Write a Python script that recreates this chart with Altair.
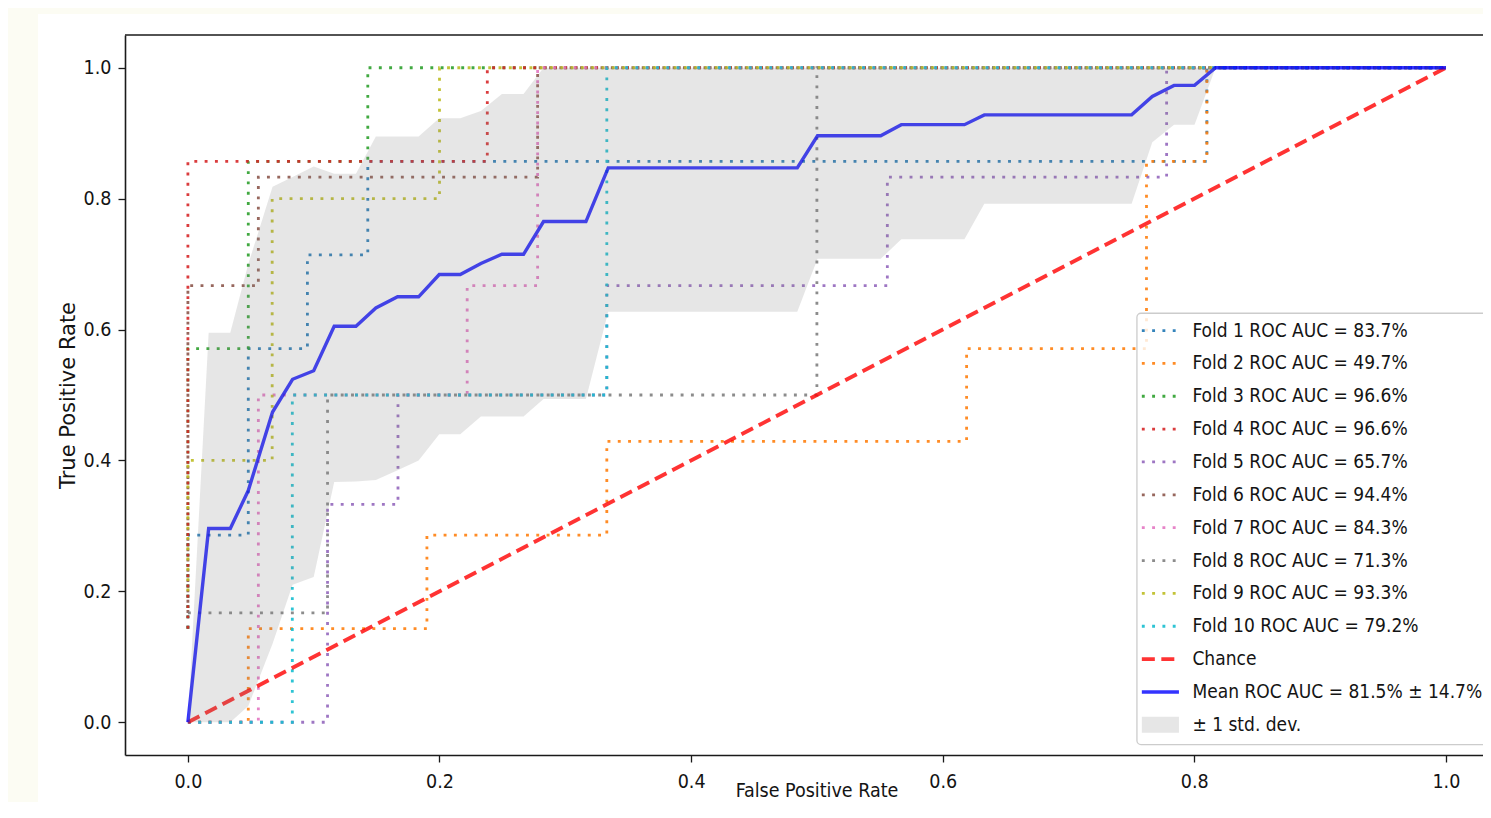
import altair as alt
import pandas as pd

# ---------------- data ----------------
fold_auc = [83.7, 49.7, 96.6, 96.6, 65.7, 94.4, 84.3, 71.3, 93.3, 79.2]
fold_colors = ["#1f77b4", "#ff7f0e", "#2ca02c", "#d62728", "#9467bd",
               "#8c564b", "#e377c2", "#7f7f7f", "#bcbd22", "#17becf"]

fold1_fpr = [0.0, 0.0, 0.048, 0.048, 0.095, 0.095, 0.143, 0.143, 0.810, 0.810, 1.0]
fold1_tpr = [0.143, 0.286, 0.286, 0.571, 0.571, 0.714, 0.714, 0.857, 0.857, 1.0, 1.0]

fold2_fpr = [0.0, 0.048, 0.048, 0.190, 0.190, 0.333, 0.333, 0.619, 0.619, 0.762, 0.762, 0.810, 0.810, 1.0]
fold2_tpr = [0.0, 0.0, 0.143, 0.143, 0.286, 0.286, 0.429, 0.429, 0.571, 0.571, 0.857, 0.857, 1.0, 1.0]

fold3_fpr = [0.0, 0.0, 0.048, 0.048, 0.143, 0.143, 1.0]
fold3_tpr = [0.143, 0.571, 0.571, 0.857, 0.857, 1.0, 1.0]

fold4_fpr = [0.0, 0.0, 0.238, 0.238, 1.0]
fold4_tpr = [0.143, 0.857, 0.857, 1.0, 1.0]

fold5_fpr = [0.0, 0.111, 0.111, 0.167, 0.167, 0.333, 0.333, 0.556, 0.556, 0.778, 0.778, 1.0]
fold5_tpr = [0.0, 0.0, 0.333, 0.333, 0.5, 0.5, 0.667, 0.667, 0.833, 0.833, 1.0, 1.0]

fold6_fpr = [0.0, 0.0, 0.056, 0.056, 0.278, 0.278, 1.0]
fold6_tpr = [0.167, 0.667, 0.667, 0.833, 0.833, 1.0, 1.0]

fold7_fpr = [0.0, 0.056, 0.056, 0.222, 0.222, 0.278, 0.278, 1.0]
fold7_tpr = [0.0, 0.0, 0.5, 0.5, 0.667, 0.667, 1.0, 1.0]

fold8_fpr = [0.0, 0.111, 0.111, 0.5, 0.5, 1.0]
fold8_tpr = [0.167, 0.167, 0.5, 0.5, 1.0, 1.0]

fold9_fpr = [0.0, 0.0, 0.067, 0.067, 0.2, 0.2, 1.0]
fold9_tpr = [0.2, 0.4, 0.4, 0.8, 0.8, 1.0, 1.0]

fold10_fpr = [0.0, 0.083, 0.083, 0.333, 0.333, 1.0]
fold10_tpr = [0.0, 0.0, 0.5, 0.5, 1.0, 1.0]

mean_fpr = [0.0, 0.0165, 0.0337, 0.048, 0.0673, 0.0832, 0.1, 0.1163, 0.1336, 0.1494,
            0.1667, 0.1834, 0.1998, 0.2165, 0.2329, 0.2496, 0.2668, 0.2827, 0.3164, 0.3341,
            0.4844, 0.5005, 0.5507, 0.5671, 0.6173, 0.6331, 0.7502, 0.7666, 0.7839, 0.8002,
            0.8169, 1.0]
mean_tpr = [0.0, 0.296, 0.296, 0.354, 0.474, 0.524, 0.537, 0.605, 0.605, 0.633,
            0.650, 0.650, 0.684, 0.684, 0.701, 0.715, 0.715, 0.765, 0.765, 0.847,
            0.847, 0.896, 0.896, 0.913, 0.913, 0.928, 0.928, 0.956, 0.973, 0.973,
            1.0, 1.0]
std_lower = [0.0, 0.0, 0.0, 0.025, 0.12, 0.21, 0.222, 0.367, 0.368, 0.37,
             0.385, 0.40, 0.44, 0.44, 0.467, 0.467, 0.467, 0.494, 0.494, 0.627,
             0.627, 0.708, 0.708, 0.738, 0.738, 0.792, 0.792, 0.886, 0.913, 0.913,
             1.0, 1.0]
std_upper = [0.0, 0.595, 0.595, 0.70, 0.818, 0.833, 0.849, 0.838, 0.838, 0.895,
             0.895, 0.895, 0.923, 0.923, 0.934, 0.96, 0.96, 1.0, 1.0, 1.0,
             1.0, 1.0, 1.0, 1.0, 1.0, 1.0, 1.0, 1.0, 1.0, 1.0,
             1.0, 1.0]

chance_fpr = [0.0, 1.0]
chance_tpr = [0.0, 1.0]

mean_label = "Mean ROC AUC = 81.5% \u00b1 14.7%"
std_label = "\u00b1 1 std. dev."
chance_label = "Chance"

x_ticks = [0.0, 0.2, 0.4, 0.6, 0.8, 1.0]
y_ticks = [0.0, 0.2, 0.4, 0.6, 0.8, 1.0]

# ---------------- tables ----------------
folds_fpr = [fold1_fpr, fold2_fpr, fold3_fpr, fold4_fpr, fold5_fpr,
             fold6_fpr, fold7_fpr, fold8_fpr, fold9_fpr, fold10_fpr]
folds_tpr = [fold1_tpr, fold2_tpr, fold3_tpr, fold4_tpr, fold5_tpr,
             fold6_tpr, fold7_tpr, fold8_tpr, fold9_tpr, fold10_tpr]
fold_labels = [f"Fold {i + 1} ROC AUC = {a:.1f}%" for i, a in enumerate(fold_auc)]

rows = []
for i, (fx, fy) in enumerate(zip(folds_fpr, folds_tpr)):
    for j, (a, b) in enumerate(zip(fx, fy)):
        rows.append({"fold": fold_labels[i], "order": j, "fpr": a, "tpr": b})
folds_df = pd.DataFrame(rows)

mean_df = pd.DataFrame({"fpr": mean_fpr, "tpr": mean_tpr, "lo": std_lower, "hi": std_upper})
chance_df = pd.DataFrame({"fpr": chance_fpr, "tpr": chance_tpr})

# axes limits (matplotlib default margins); the right part falls outside the window
X_MIN, X_MAX, Y_MIN, Y_MAX = -0.05, 1.0295, -0.05, 1.05

# legend layout (in data units of the axes)
ROW0, ROWSTEP = 0.5985, 0.0502
SYM_X0, SYM_X1, TXT_X = 0.7583, 0.7878, 0.7985
all_labels = fold_labels + [chance_label, mean_label, std_label]
leg_df = pd.DataFrame({
    "label": all_labels,
    "row": [ROW0 - ROWSTEP * i for i in range(len(all_labels))],
    "x0": SYM_X0, "x1": SYM_X1, "tx": TXT_X,
})
fold_leg = leg_df.iloc[:10].assign(fold=fold_labels)
chance_leg = leg_df.iloc[[10]]
mean_leg = leg_df.iloc[[11]]
std_leg = leg_df.iloc[[12]].assign(top=lambda d: d["row"] + 0.0122, bot=lambda d: d["row"] - 0.0122)
box_df = pd.DataFrame({"x0": [0.7544], "x1": [1.07], "y0": [0.6249], "y1": [-0.034]})
frame_df = pd.DataFrame({"x0": [X_MIN], "x1": [1.07], "y": [Y_MAX]})

# ---------------- styling ----------------
W, H = 1358, 720
FONT = "DejaVu Sans Condensed, DejaVu Sans"
FS = 19.5
LEG_FS = 19
TXT = "#141414"
FRAME = "#1a1a1a"
xs = alt.Scale(domain=[X_MIN, X_MAX], nice=False, zero=False)
ys = alt.Scale(domain=[Y_MIN, Y_MAX], nice=False, zero=False)
xaxis = alt.Axis(values=x_ticks, format=".1f", title="False Positive Rate", grid=False,
                 domain=True, domainColor=FRAME, domainWidth=1.6, zindex=1,
                 tickSize=7, tickColor=FRAME, tickWidth=1.3,
                 labelPadding=10, labelFont=FONT, labelFontSize=FS, labelColor=TXT,
                 titleFont=FONT, titleFontSize=FS, titleFontWeight="normal", titleColor=TXT,
                 titleX=W / 2 + 0.5 * (1383 - W), titleY=41, titleBaseline="alphabetic",
                 titleAlign="center")
yaxis = alt.Axis(values=y_ticks, format=".1f", title="True Positive Rate", grid=False,
                 domain=True, domainColor=FRAME, domainWidth=1.6, zindex=1,
                 tickSize=7, tickColor=FRAME, tickWidth=1.3,
                 labelPadding=7, labelFont=FONT, labelFontSize=FS, labelColor=TXT,
                 titleFont="DejaVu Sans", titleFontSize=21, titleFontWeight="normal",
                 titleColor=TXT, titleAngle=270, titleX=-51, titleY=H / 2,
                 titleBaseline="alphabetic", titleAlign="center")


def X(f):
    return alt.X(f, type="quantitative", scale=xs, axis=xaxis)


def Y(f):
    return alt.Y(f, type="quantitative", scale=ys, axis=yaxis)


fold_color = alt.Color("fold:N", scale=alt.Scale(domain=fold_labels, range=fold_colors), legend=None)
DOT = [2.9, 7.4]
DOT_W = 2.8
DOT_OP = 0.9

# white figure area on the cream page
page = alt.Chart(pd.DataFrame({"k": [0]})).mark_rect(color="white").encode(
    x=alt.value(-87), x2=alt.value(W + 200), y=alt.value(-21), y2=alt.value(H + 200))

top_frame = alt.Chart(frame_df).mark_rule(color=FRAME, strokeWidth=1.6).encode(
    x=X("x0"), x2=alt.X2("x1"), y=Y("y"))

fold_lines = alt.Chart(folds_df).mark_line(strokeWidth=DOT_W, strokeDash=DOT, strokeCap="butt",
                                           opacity=DOT_OP).encode(
    x=X("fpr"), y=Y("tpr"), color=fold_color, order="order:Q")

chance = alt.Chart(chance_df).mark_line(color="#ff0000", opacity=0.8, strokeWidth=3.8,
                                        strokeDash=[13, 6.5]).encode(x=X("fpr"), y=Y("tpr"))

mean_line = alt.Chart(mean_df).mark_line(color="#0000ff", opacity=0.8, strokeWidth=3.4).encode(
    x=X("fpr"), y=Y("tpr"))

band = alt.Chart(mean_df).mark_area(color="#808080", opacity=0.2).encode(
    x=X("fpr"), y=Y("lo"), y2=alt.Y2("hi"))

box = alt.Chart(box_df).mark_rect(fill="white", fillOpacity=0.8, stroke="#cccccc",
                                  strokeWidth=1.3, cornerRadius=4).encode(
    x=X("x0"), x2=alt.X2("x1"), y=Y("y0"), y2=alt.Y2("y1"))

leg_folds = alt.Chart(fold_leg).mark_rule(strokeWidth=DOT_W, strokeDash=DOT, strokeCap="butt",
                                          opacity=DOT_OP).encode(
    x=X("x0"), x2=alt.X2("x1"), y=Y("row"), color=fold_color)
leg_chance = alt.Chart(chance_leg).mark_rule(color="#ff0000", opacity=0.8, strokeWidth=3.8,
                                             strokeDash=[13, 6.5]).encode(
    x=X("x0"), x2=alt.X2("x1"), y=Y("row"))
leg_mean = alt.Chart(mean_leg).mark_rule(color="#0000ff", opacity=0.8, strokeWidth=3.4).encode(
    x=X("x0"), x2=alt.X2("x1"), y=Y("row"))
leg_std = alt.Chart(std_leg).mark_rect(color="#808080", opacity=0.2).encode(
    x=X("x0"), x2=alt.X2("x1"), y=Y("top"), y2=alt.Y2("bot"))
leg_text = alt.Chart(leg_df).mark_text(align="left", baseline="middle", font=FONT,
                                       fontSize=LEG_FS, color=TXT).encode(
    x=X("tx"), y=Y("row"), text="label:N")

chart = alt.layer(
    page, top_frame, fold_lines, chance, mean_line, band,
    box, leg_folds, leg_chance, leg_mean, leg_std, leg_text,
).properties(
    width=W, height=H, background="#fcfcf3",
    padding={"left": 117, "top": 27, "right": 0, "bottom": 47},
    autosize=alt.AutoSizeParams(type="none"),
).configure_view(stroke=None)

chart.save("out.html", embed_options={"renderer": "svg", "actions": False})
